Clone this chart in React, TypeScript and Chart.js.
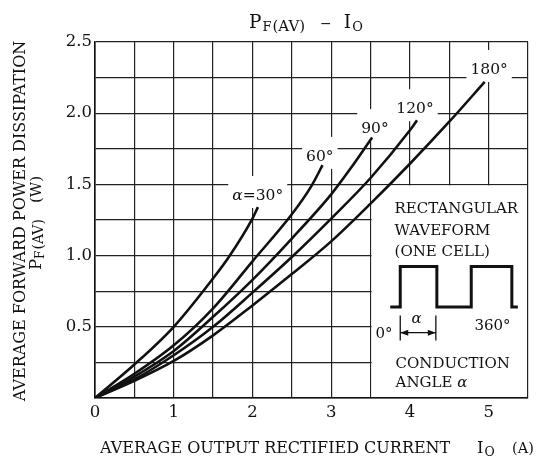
import React, { useEffect, useRef } from "react";
import { Chart, registerables } from "chart.js";
Chart.register(...registerables);

// ---- data ----
const io30 = [0, 0.5, 1.0, 1.5, 1.7, 2.0, 2.07];
const pf30 = [0, 0.235, 0.5, 0.84, 0.99, 1.26, 1.34];
const io60 = [0, 0.5, 1.0, 1.5, 2.0, 2.5, 2.75, 2.89];
const pf60 = [0, 0.17, 0.37, 0.63, 0.96, 1.29, 1.49, 1.635];
const io90 = [0, 0.5, 1.0, 1.5, 2.0, 2.5, 3.0, 3.25, 3.52];
const pf90 = [0, 0.15, 0.33, 0.57, 0.83, 1.12, 1.43, 1.615, 1.83];
const io120 = [0, 0.5, 1.0, 1.5, 2.0, 2.5, 3.0, 3.5, 4.0, 4.09];
const pf120 = [0, 0.13, 0.3, 0.5, 0.74, 0.99, 1.26, 1.545, 1.88, 1.95];
const io180 = [0, 0.5, 1.0, 1.5, 2.0, 2.5, 3.0, 3.5, 4.0, 4.5, 4.95];
const pf180 = [0, 0.12, 0.26, 0.44, 0.65, 0.87, 1.1, 1.365, 1.645, 1.94, 2.22];

const curveLabels = ["=30°", "60°", "90°", "120°", "180°"];
const xTickLabels = ["0", "1", "2", "3", "4", "5"];
const yTickLabels = ["0.5", "1.0", "1.5", "2.0", "2.5"];
const insetTop = ["RECTANGULAR", "WAVEFORM", "(ONE CELL)"];
const insetBottom = ["CONDUCTION", "ANGLE "];

// label anchors (data coords: centre x, baseline y)
const labelAnchors = [
  { x: 2.067, y: 1.39 },
  { x: 2.856, y: 1.665 },
  { x: 3.556, y: 1.86 },
  { x: 4.065, y: 2.0 },
  { x: 5.006, y: 2.275 },
];
const INSET = { x: 3.5, y: 1.5 };

const SERIF = '"DejaVu Serif", "Liberation Serif", serif';
const INK = "#111";

type Seg = { t: string; size: number; italic?: boolean; dy?: number; dx?: number; ls?: number };
const fontOf = (s: Seg) => `${s.italic ? "italic " : ""}${s.size}px ${SERIF}`;

function segWidth(ctx: CanvasRenderingContext2D, s: Seg) {
  ctx.font = fontOf(s);
  const ls = s.ls || 0;
  return ctx.measureText(s.t).width + ls * Math.max(0, s.t.length - 1);
}
function richWidth(ctx: CanvasRenderingContext2D, segs: Seg[]) {
  let w = 0;
  for (const s of segs) w += segWidth(ctx, s) + (s.dx || 0);
  return w;
}
function drawRich(ctx: CanvasRenderingContext2D, segs: Seg[], x: number, y: number, align = "left") {
  const w = richWidth(ctx, segs);
  let cx = align === "center" ? x - w / 2 : align === "right" ? x - w : x;
  ctx.textAlign = "left";
  ctx.textBaseline = "alphabetic";
  for (const s of segs) {
    cx += s.dx || 0;
    ctx.font = fontOf(s);
    if (s.ls) {
      for (const ch of s.t) {
        ctx.fillText(ch, cx, y + (s.dy || 0));
        cx += ctx.measureText(ch).width + s.ls;
      }
      cx -= s.ls;
    } else {
      ctx.fillText(s.t, cx, y + (s.dy || 0));
      cx += ctx.measureText(s.t).width;
    }
  }
  return w;
}

function labelSegs(i: number): Seg[] {
  if (i === 0) return [{ t: "α", size: 15.5, italic: true }, { t: curveLabels[0], size: 15.5 }];
  return [{ t: curveLabels[i], size: 15.5 }];
}

const annot = {
  id: "annot",
  beforeDatasetsDraw(chart: any) {
    const { ctx, scales, chartArea } = chart;
    const xs = scales.x, ys = scales.y;
    ctx.save();
    ctx.fillStyle = "#fff";
    const ix = xs.getPixelForValue(INSET.x);
    const iy = ys.getPixelForValue(INSET.y);
    ctx.fillRect(ix + 1, iy + 1, chartArea.right - ix - 2, chartArea.bottom - iy - 2);
    labelAnchors.forEach((a, i) => {
      const w = richWidth(ctx, labelSegs(i));
      const cx = xs.getPixelForValue(a.x);
      const by = ys.getPixelForValue(a.y);
      ctx.fillRect(cx - w / 2 - 4, by - 24, w + 8, 32);
    });
    ctx.restore();
  },
  afterDraw(chart: any) {
    const { ctx, scales } = chart;
    const xs = scales.x, ys = scales.y;
    ctx.save();
    ctx.fillStyle = INK;
    ctx.strokeStyle = INK;

    // title
    drawRich(ctx, [
      { t: "P", size: 18.5 },
      { t: "F", size: 13, dy: 3.5, dx: 1 },
      { t: "(AV)", size: 15, dy: 3, dx: 1 },
      { t: "−", size: 14, dx: 15 },
      { t: "I", size: 18.5, dx: 12 },
      { t: "O", size: 13, dy: 3.5, dx: 1 },
    ], 249, 27.5, "left");

    // x axis title
    drawRich(ctx, [{ t: "AVERAGE OUTPUT RECTIFIED CURRENT", size: 16 }], 100, 453, "left");
    drawRich(ctx, [{ t: "I", size: 16.5 }, { t: "O", size: 12.5, dy: 3, dx: 1 }], 477, 453, "left");
    drawRich(ctx, [{ t: "(A)", size: 14.5 }], 512, 453, "left");

    // y axis title (rotated)
    ctx.save();
    ctx.translate(25, 221);
    ctx.rotate(-Math.PI / 2);
    drawRich(ctx, [{ t: "AVERAGE FORWARD POWER DISSIPATION", size: 16 }], 0, 0, "center");
    ctx.restore();
    ctx.save();
    ctx.translate(41, 270);
    ctx.rotate(-Math.PI / 2);
    drawRich(ctx, [
      { t: "P", size: 16.5 },
      { t: "F", size: 12, dy: 3 },
      { t: "(AV)", size: 14, dy: 2, dx: 1 },
      { t: "(W)", size: 15, dx: 16 },
    ], 0, 0, "left");
    ctx.restore();

    // curve labels
    labelAnchors.forEach((a, i) => {
      drawRich(ctx, labelSegs(i), xs.getPixelForValue(a.x), ys.getPixelForValue(a.y), "center");
    });

    // inset
    const L = xs.getPixelForValue(INSET.x);
    const T = ys.getPixelForValue(INSET.y);
    const fs = 15;
    insetTop.forEach((s, i) => drawRich(ctx, [{ t: s, size: fs }], L + 24, T + 29 + i * 21.5, "left"));
    drawRich(ctx, [{ t: insetBottom[0], size: fs }], L + 25, T + 184, "left");
    drawRich(ctx, [{ t: insetBottom[1], size: fs }, { t: "α", size: fs, italic: true }], L + 25, T + 203, "left");

    // waveform
    ctx.lineWidth = 3;
    ctx.lineJoin = "miter";
    const wx = [19.7, 29.7, 66.3, 100.7, 141.3, 147.3];
    const lo = T + 122.7, hi = T + 82;
    ctx.beginPath();
    ctx.moveTo(L + wx[0], lo);
    ctx.lineTo(L + wx[1], lo);
    ctx.lineTo(L + wx[1], hi);
    ctx.lineTo(L + wx[2], hi);
    ctx.lineTo(L + wx[2], lo);
    ctx.lineTo(L + wx[3], lo);
    ctx.lineTo(L + wx[3], hi);
    ctx.lineTo(L + wx[4], hi);
    ctx.lineTo(L + wx[4], lo);
    ctx.lineTo(L + wx[5], lo);
    ctx.stroke();

    // conduction-angle dimension
    ctx.lineWidth = 1.3;
    const a1 = L + 29.7, a2 = L + 65.3, ay = T + 148.3;
    ctx.beginPath();
    ctx.moveTo(a1, T + 131); ctx.lineTo(a1, T + 156);
    ctx.moveTo(a2, T + 131); ctx.lineTo(a2, T + 156);
    ctx.moveTo(a1, ay); ctx.lineTo(a2, ay);
    ctx.stroke();
    ctx.beginPath();
    ctx.moveTo(a1, ay); ctx.lineTo(a1 + 8, ay - 3); ctx.lineTo(a1 + 8, ay + 3); ctx.closePath();
    ctx.moveTo(a2, ay); ctx.lineTo(a2 - 8, ay - 3); ctx.lineTo(a2 - 8, ay + 3); ctx.closePath();
    ctx.fill();
    drawRich(ctx, [{ t: "α", size: 15, italic: true }], L + 46, T + 139, "center");
    drawRich(ctx, [{ t: "0°", size: fs }], L + 22, T + 154, "right");
    drawRich(ctx, [{ t: "360°", size: fs }], L + 122, T + 146, "center");

    ctx.restore();
  },
};

const pts = (xs: number[], ys: number[]) => xs.map((x, i) => ({ x, y: ys[i] }));

export default function App() {
  const ref = useRef<HTMLCanvasElement>(null);
  useEffect(() => {
    const canvas = ref.current!;
    const series = [
      pts(io30, pf30),
      pts(io60, pf60),
      pts(io90, pf90),
      pts(io120, pf120),
      pts(io180, pf180),
    ];
    const chart = new Chart(canvas, {
      type: "scatter",
      data: {
        datasets: series.map((d, i) => ({
          label: curveLabels[i],
          data: d,
          showLine: true,
          borderColor: INK,
          borderWidth: 2.6,
          pointRadius: 0,
          cubicInterpolationMode: "monotone",
          fill: false,
        })),
      },
      options: {
        animation: false,
        responsive: false,
        devicePixelRatio: 1,
        events: [],
        layout: { padding: { top: 42, right: 10, left: 0, bottom: 0 } },
        plugins: { legend: { display: false }, tooltip: { enabled: false }, title: { display: false } },
        scales: {
          x: {
            type: "linear",
            min: 0,
            max: 5.5,
            afterFit: (s: any) => { s.height = 65; },
            ticks: {
              stepSize: 0.5,
              autoSkip: false,
              maxRotation: 0,
              padding: 5,
              color: INK,
              font: { family: SERIF, size: 16.5 },
              callback: (v: any) => {
                const n = Number(v);
                return Number.isInteger(n) ? xTickLabels[n] ?? "" : "";
              },
            },
            grid: { color: "#222", lineWidth: 1.2, drawTicks: false },
            border: { display: true, color: INK, width: 1.6 },
          },
          y: {
            type: "linear",
            min: 0,
            max: 2.5,
            afterFit: (s: any) => { s.width = 95; },
            ticks: {
              stepSize: 0.25,
              autoSkip: false,
              padding: 3,
              color: INK,
              font: { family: SERIF, size: 16.5 },
              callback: (v: any) => {
                const n = Number(v);
                const k = Math.round(n / 0.5);
                return n > 0 && Math.abs(n - k * 0.5) < 1e-9 ? yTickLabels[k - 1] ?? "" : "";
              },
            },
            grid: { color: "#222", lineWidth: 1.2, drawTicks: false },
            border: { display: true, color: INK, width: 1.6 },
          },
        },
      },
      plugins: [annot],
    } as any);
    return () => chart.destroy();
  }, []);
  return (
    <div style={{ position: "fixed", left: 0, top: 0, width: 538, height: 463, background: "#fff" }}>
      <canvas ref={ref} width={538} height={463} style={{ width: 538, height: 463, display: "block" }} />
    </div>
  );
}
